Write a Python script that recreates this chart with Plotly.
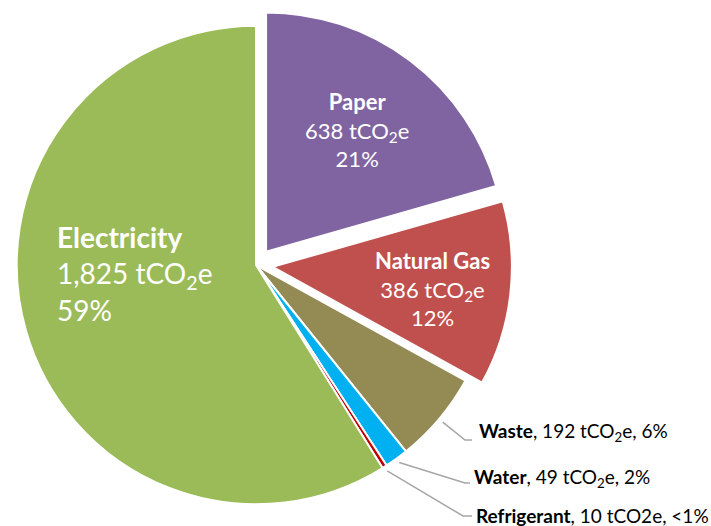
import math
import plotly.graph_objects as go

# ---- data ----
categories = ["Paper", "Natural Gas", "Waste", "Water", "Refrigerant", "Electricity"]
values = [638, 386, 192, 49, 10, 1825]
value_labels = ["638 tCO<sub>2</sub>e", "386 tCO<sub>2</sub>e", "192 tCO<sub>2</sub>e",
                "49 tCO<sub>2</sub>e", "10 tCO2e", "1,825 tCO<sub>2</sub>e"]
pct_labels = ["21%", "12%", "6%", "2%", "<1%", "59%"]
pulls = [0.07, 0.07, 0, 0, 0, 0]
colors = ["#8064A2", "#C0504D", "#948A54", "#00B0F0", "#C00000", "#9BBB59"]

W, H = 711, 526
FONT = "Lato"

dom_x = [0, 512 / W]
dom_y = [0, (H - 4) / H]

fig = go.Figure(go.Pie(
    labels=categories, values=values, sort=False, direction="clockwise",
    rotation=0, pull=pulls, textinfo="none", hoverinfo="label+value+percent",
    marker=dict(colors=colors, line=dict(color="white", width=2)),
    domain=dict(x=dom_x, y=dom_y), showlegend=False,
))

# pie geometry (same rule as plotly: r = min(box)/(2+2*maxPull))
bw = W * (dom_x[1] - dom_x[0])
bh = H * (dom_y[1] - dom_y[0])
r = min(bw, bh) / (2 + 2 * max(pulls))
cx = W * (dom_x[0] + dom_x[1]) / 2
cy = H * (1 - dom_y[0]) - bh / 2

def px(x):
    return x / W

def py(y):
    return 1 - y / H

total = sum(values)
annotations = []
shapes = []

# inside labels (big slices)
inside = {
    "Electricity": dict(x=55, y=273, anchor="left", align="left", size=28),
    "Paper": dict(x=357, y=130, anchor="center", align="center", size=22),
    "Natural Gas": dict(x=432, y=289, anchor="center", align="center", size=22),
}
for i, c in enumerate(categories):
    if c in inside:
        s = inside[c]
        annotations.append(dict(
            xref="paper", yref="paper", x=px(s["x"]), y=py(s["y"]),
            xanchor=s["anchor"], yanchor="middle", align=s["align"], showarrow=False,
            text=f"<b>{c}</b><br>{value_labels[i]}<br>{pct_labels[i]}",
            font=dict(family=FONT, size=s["size"], color="white"),
        ))

# outside labels with leader lines
outside = {
    "Waste": dict(elbow=(465, 440), end=(472, 440), tx=477, ty=432),
    "Water": dict(elbow=(465, 483), end=(470, 483), tx=472, ty=478),
    "Refrigerant": dict(elbow=(463, 516), end=(472, 516), tx=474, ty=515),
}
cum = 0
for i, c in enumerate(categories):
    mid = (cum + values[i] / 2) / total
    cum += values[i]
    if c in outside:
        o = outside[c]
        ang = 2 * math.pi * mid
        sx = cx + 1.02 * r * math.sin(ang)
        sy = cy - 1.02 * r * math.cos(ang)
        ex, ey = o["elbow"]
        fx, fy = o["end"]
        shapes.append(dict(
            type="path", xref="paper", yref="paper",
            path=f"M {px(sx)} {py(sy)} L {px(ex)} {py(ey)} L {px(fx)} {py(fy)}",
            line=dict(color="#A6A6A6", width=1.5),
        ))
        annotations.append(dict(
            xref="paper", yref="paper", x=px(o["tx"]), y=py(o["ty"]),
            xanchor="left", yanchor="middle", showarrow=False,
            text=f"<b>{c}</b>, {value_labels[i]}, {pct_labels[i]}",
            font=dict(family=FONT, size=19, color="black"),
        ))

fig.update_layout(
    width=W, height=H, margin=dict(l=0, r=0, t=0, b=0),
    paper_bgcolor="white", plot_bgcolor="white",
    annotations=annotations, shapes=shapes,
)

fig.write_html("out.html")
